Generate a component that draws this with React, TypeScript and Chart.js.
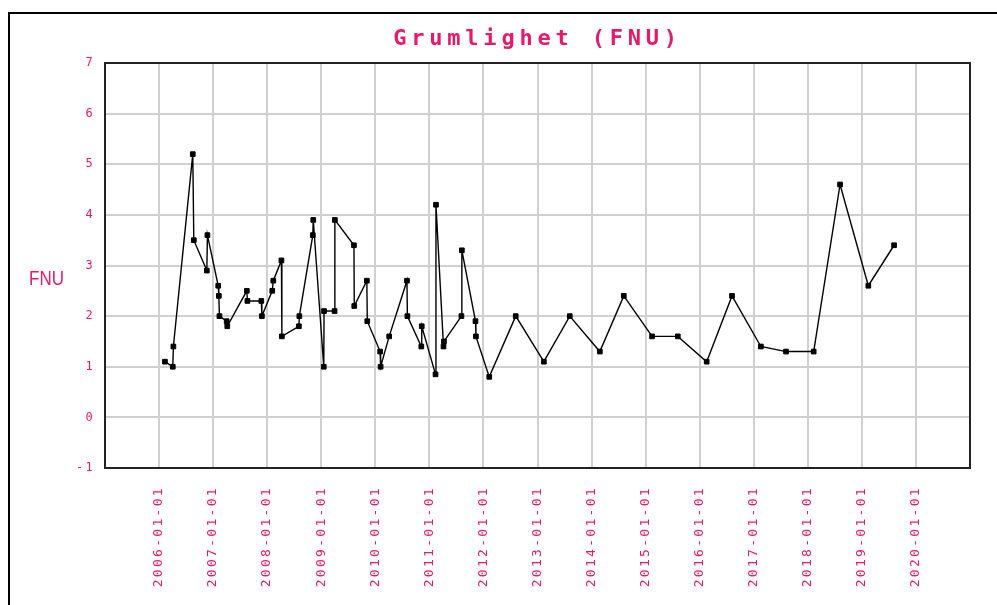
import { useEffect, useRef } from 'react';
import { Chart, registerables } from 'chart.js';

Chart.register(...registerables);

// Sample dates (chronological, as plotted)
const sampleDates: string[] = [
  '2006-02-10', '2006-04-04', '2006-04-08', '2006-08-17', '2006-08-24', '2006-11-20', '2006-11-24',
  '2007-02-05', '2007-02-09', '2007-02-13', '2007-04-03', '2007-04-07', '2007-08-17', '2007-08-21',
  '2007-11-23', '2007-11-27', '2008-02-05', '2008-02-12', '2008-04-07', '2008-04-10', '2008-08-03',
  '2008-08-06', '2008-11-05', '2008-11-08', '2009-01-18', '2009-01-20', '2009-04-01', '2009-04-03',
  '2009-08-10', '2009-08-12', '2009-11-05', '2009-11-08', '2010-02-03', '2010-02-06', '2010-04-05',
  '2010-08-03', '2010-08-06', '2010-11-08', '2010-11-11', '2011-02-12', '2011-02-15', '2011-04-07',
  '2011-04-10', '2011-08-06', '2011-08-09', '2011-11-09', '2011-11-12', '2012-02-10', '2012-08-07',
  '2013-02-13', '2013-08-07', '2014-02-26', '2014-08-07', '2015-02-14', '2015-08-07', '2016-02-18',
  '2016-08-07', '2017-02-18', '2017-08-07', '2018-02-10', '2018-08-07', '2019-02-14', '2019-08-07',
];

// Turbidity values (FNU)
const turbidity: number[] = [
  1.1, 1.0, 1.4, 5.2, 3.5, 2.9, 3.6,
  2.6, 2.4, 2.0, 1.9, 1.8, 2.5, 2.3,
  2.3, 2.0, 2.5, 2.7, 3.1, 1.6, 1.8,
  2.0, 3.6, 3.9, 1.0, 2.1, 2.1, 3.9,
  3.4, 2.2, 2.7, 1.9, 1.3, 1.0, 1.6,
  2.7, 2.0, 1.4, 1.8, 0.85, 4.2, 1.4,
  1.5, 2.0, 3.3, 1.9, 1.6, 0.8, 2.0,
  1.1, 2.0, 1.3, 2.4, 1.6, 1.6, 1.1,
  2.4, 1.4, 1.3, 1.3, 4.6, 2.6, 3.4,
];

// X tick labels (years with gridlines / labels on 1 January)
const yearTicks: number[] = [2006, 2007, 2008, 2009, 2010, 2011, 2012, 2013, 2014, 2015, 2016, 2017, 2018, 2019, 2020];
const xRangeYears: number[] = [2005, 2021];
const yRange: number[] = [-1, 7];

const TITLE = 'Grumlighet (FNU)';
const Y_LABEL = 'FNU';
const PINK = '#e8186a';
const MONO = '"DejaVu Sans Mono", "Liberation Mono", monospace';

const toMs = (d: string) => Date.parse(d + 'T00:00:00Z');
const fmtDate = (v: number) => new Date(v).toISOString().slice(0, 10);

const decorPlugin = {
  id: 'decor',
  beforeDraw(chart: any) {
    chart.ctx.letterSpacing = '4.8px';
  },
  beforeDatasetsDraw(chart: any) {
    chart.ctx.letterSpacing = '2.3px';
  },
  afterDraw(chart: any) {
    const { ctx, chartArea: a } = chart;
    ctx.save();
    ctx.letterSpacing = '0px';
    // plot frame
    ctx.strokeStyle = '#222';
    ctx.lineWidth = 2;
    ctx.strokeRect(a.left, a.top, a.right - a.left, a.bottom - a.top);
    // outer image frame (left + top)
    ctx.fillStyle = '#000';
    ctx.fillRect(8, 12, 2, 600);
    ctx.fillRect(8, 12, 995, 2);
    // y-axis label
    ctx.fillStyle = PINK;
    ctx.font = '20px "Liberation Sans", sans-serif';
    ctx.textBaseline = 'middle';
    ctx.textAlign = 'left';
    ctx.translate(29, 279);
    ctx.scale(0.85, 1);
    ctx.fillText(Y_LABEL, 0, 0);
    ctx.restore();
  },
};

export default function App() {
  const canvasRef = useRef<HTMLCanvasElement | null>(null);

  useEffect(() => {
    const canvas = canvasRef.current;
    if (!canvas) return;
    const points = sampleDates.map((d, i) => ({ x: toMs(d), y: turbidity[i] }));
    const chart = new Chart(canvas, {
      type: 'line',
      data: {
        datasets: [
          {
            label: Y_LABEL,
            data: points,
            borderColor: '#000',
            borderWidth: 1.4,
            tension: 0,
            pointStyle: 'rect',
            pointRadius: 3.3,
            pointBackgroundColor: '#000',
            pointBorderColor: '#000',
            pointBorderWidth: 1,
          },
        ],
      },
      options: {
        responsive: false,
        animation: false,
        events: [],
        layout: { padding: { left: 10, right: 27, top: 0, bottom: 0 } },
        plugins: {
          legend: { display: false },
          tooltip: { enabled: false },
          title: {
            display: true,
            text: TITLE,
            color: PINK,
            fullSize: false,
            font: { family: MONO, size: 22, weight: 'bold', lineHeight: 1.2 },
            padding: { top: 26, bottom: 10.6 },
          },
        },
        scales: {
          x: {
            type: 'linear',
            min: Date.UTC(xRangeYears[0], 0, 1),
            max: Date.UTC(xRangeYears[1], 0, 1),
            afterBuildTicks: (scale: any) => {
              scale.ticks = yearTicks.map((y) => ({ value: Date.UTC(y, 0, 1) }));
            },
            afterFit: (scale: any) => {
              scale.height = 137;
            },
            grid: { color: '#d0d0d0', lineWidth: 2, drawTicks: false },
            border: { display: false },
            ticks: {
              z: 1,
              autoSkip: false,
              minRotation: 90,
              maxRotation: 90,
              padding: 18,
              color: PINK,
              font: { family: MONO, size: 13 },
              callback: (v: any) => fmtDate(Number(v)),
            },
          },
          y: {
            type: 'linear',
            min: yRange[0],
            max: yRange[1],
            afterFit: (scale: any) => {
              scale.width = 95;
            },
            grid: { color: '#d0d0d0', lineWidth: 2, drawTicks: false },
            border: { display: false },
            ticks: {
              z: 1,
              stepSize: 1,
              padding: 10,
              color: PINK,
              font: { family: MONO, size: 12 },
            },
          },
        },
      },
      plugins: [decorPlugin],
    } as any);
    return () => chart.destroy();
  }, []);

  return (
    <div style={{ position: 'fixed', left: 0, top: 0, width: 997, height: 605, background: '#fff' }}>
      <canvas ref={canvasRef} width={997} height={605} style={{ display: 'block' }} />
    </div>
  );
}
